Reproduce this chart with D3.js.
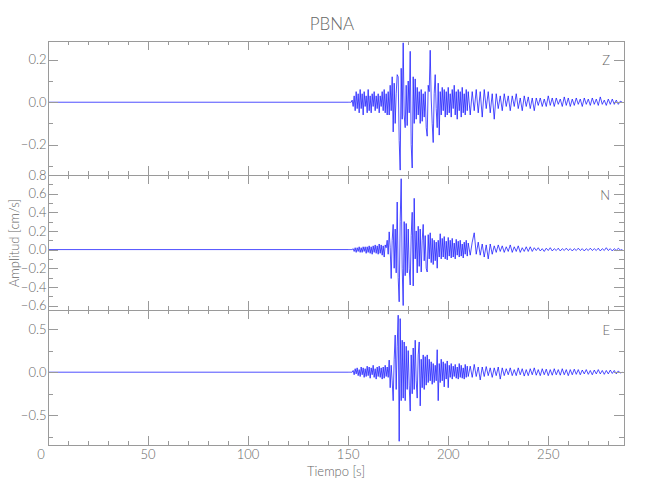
<!DOCTYPE html>
<html>
<head>
<meta charset="utf-8">
<script src="https://cdn.jsdelivr.net/npm/d3@7"></script>
<style>
  html, body { margin: 0; padding: 0; background: #fff; }
  svg { display: block; }
  text { font-family: Lato, "DejaVu Sans Condensed", sans-serif; font-weight: 300; fill: #666; }
  .axis path, .axis line { stroke: #9a9a9a; stroke-width: 1; shape-rendering: crispEdges; }
</style>
</head>
<body>
<script>
// ---------------- DATA ----------------
const stationName = "PBNA";
const channels = ["Z", "N", "E"];
const xTickValues = [0, 50, 100, 150, 200, 250];
const timeMax = 287.6;
const preEventStart = 0;            // quiet trace from 0 s
const strongStart = 150, strongStep = 0.5;   // samples 150..210 s every 0.5 s
const codaStart = 211, codaStep = 1;         // samples 211..287 s every 1 s

const yDomainZ = [-0.343, 0.291];
const yDomainN = [-0.648, 0.80];
const yDomainE = [-0.843, 0.72];
const yTicksZ = [-0.2, 0.0, 0.2];
const yTicksN = [-0.6, -0.4, -0.2, 0.0, 0.2, 0.4, 0.6, 0.8];
const yTicksE = [-0.5, 0.0, 0.5];
const yMinorStepZ = 0.1, yMinorStepN = 0.1, yMinorStepE = 0.25;

// Z component, 150.0 .. 210.0 s
const zStrong = [
  0, 0, 0, 0, 0.01, -0.02, 0.03, -0.04, 0.05, -0.03,
  0.04, -0.05, 0.06, -0.03, 0.04, -0.06, 0.05, -0.02, 0.03, -0.05,
  0.06, -0.04, 0.03, -0.05, 0.04, -0.02, 0.05, -0.04, 0.03, -0.03,
  0.04, -0.05, 0.03, -0.02, 0.05, -0.04, 0.06, -0.05, 0.04, -0.06,
  0.05, -0.06, 0.08, -0.04, 0.12, -0.14, 0.09, -0.10, 0.04, 0.13,
  0.12, -0.18, -0.32, 0.16, -0.08, 0.28, -0.06, -0.12, 0.08, -0.11,
  0.10, -0.05, 0.24, -0.20, -0.31, 0.12, -0.10, 0.11, -0.08, 0.07,
  -0.06, 0.05, -0.10, 0.06, -0.09, 0.04, -0.07, 0.05, -0.12, -0.16,
  0.08, 0.05, 0.245, 0.02, -0.10, -0.19, 0.04, 0.13, -0.03, -0.12,
  0.09, -0.155, 0.05, -0.06, 0.07, -0.04, 0.06, -0.07, 0.05, -0.06,
  0.07, -0.05, 0.04, -0.07, 0.06, -0.03, 0.08, -0.06, 0.05, -0.08,
  0.06, -0.04, 0.05, -0.07, 0.07, -0.05, 0.04, -0.06, 0.06, -0.04,
  0.05
];
// Z component, 211 .. 287 s
const zCoda = [
  -0.06, 0.05, -0.04, 0.06, -0.05, 0.05, -0.07, 0.06, -0.03, 0.05,
  -0.05, 0.04, -0.08, 0.04, -0.03, 0.03, -0.04, 0.04, -0.02, 0.03,
  -0.04, 0.03, -0.02, 0.04, -0.03, 0.02, -0.04, 0.03, -0.02, 0.025,
  -0.03, 0.02, -0.04, 0.02, -0.015, 0.02, -0.02, 0.015, -0.02, 0.03,
  -0.015, 0.02, -0.02, 0.02, -0.01, 0.015, -0.02, 0.025, -0.015, 0.02,
  -0.02, 0.015, -0.015, 0.02, -0.01, 0.015, -0.02, 0.02, -0.01, 0.015,
  -0.015, 0.02, -0.01, 0.015, -0.015, 0.025, -0.01, 0.01, -0.015, 0.015,
  -0.01, 0.015, -0.01, 0.01, -0.01, 0.005, 0.0
];

// N component, 150.0 .. 210.0 s
const nStrong = [
  0, 0, 0, 0, 0, 0.01, -0.02, 0.02, -0.03, 0.02,
  -0.02, 0.03, -0.03, 0.02, -0.03, 0.03, -0.02, 0.03, -0.04, 0.03,
  -0.03, 0.04, -0.04, 0.03, -0.05, 0.04, -0.03, 0.05, -0.04, 0.04,
  -0.05, 0.06, -0.04, 0.05, -0.06, 0.04, -0.08, 0.05, 0.02, 0.10,
  -0.05, 0.19, 0.02, -0.31, 0.10, 0.27, -0.20, 0.22, -0.25, 0.51,
  -0.30, -0.56, 0.30, 0.76, -0.20, -0.60, 0.30, -0.28, 0.28, -0.25,
  0.22, -0.20, -0.38, 0.15, 0.40, -0.39, 0.55, -0.10, 0.20, -0.25,
  0.25, -0.18, 0.22, -0.24, 0.10, 0.27, -0.12, 0.15, -0.20, -0.24,
  0.16, -0.10, 0.18, -0.14, 0.12, -0.16, 0.10, -0.12, 0.08, -0.20,
  0.10, -0.08, 0.17, -0.10, 0.12, -0.08, 0.14, -0.10, 0.09, -0.11,
  0.13, -0.07, 0.10, -0.09, 0.12, -0.08, 0.07, -0.10, 0.11, -0.06,
  0.09, -0.08, 0.10, -0.07, 0.06, -0.09, 0.08, -0.05, 0.10, -0.07,
  0.07
];
// N component, 211 .. 287 s
const nCoda = [
  -0.06, 0.08, 0.18, -0.05, 0.08, -0.06, 0.06, -0.08, 0.05, -0.10,
  0.06, -0.05, 0.04, -0.03, 0.05, -0.02, 0.04, -0.03, 0.03, -0.02,
  0.05, -0.03, 0.03, -0.02, 0.04, -0.03, 0.02, -0.02, 0.03, -0.02,
  0.03, -0.02, 0.02, -0.01, 0.02, -0.015, 0.01, -0.02, 0.015, -0.01,
  0.02, -0.015, 0.01, -0.01, 0.015, -0.015, 0.01, -0.01, 0.015, -0.01,
  0.01, -0.015, 0.01, -0.01, 0.015, -0.01, 0.01, -0.015, 0.01, -0.01,
  0.015, -0.01, 0.01, -0.01, 0.015, -0.015, 0.01, -0.01, 0.02, -0.01,
  0.01, -0.015, 0.01, -0.01, 0.015, -0.005, 0.0
];

// E component, 150.0 .. 210.0 s
const eStrong = [
  0, 0, 0, 0, 0, 0.02, -0.03, 0.04, -0.02, 0.05,
  -0.04, 0.03, -0.05, 0.06, -0.03, 0.05, -0.06, 0.04, -0.05, 0.07,
  -0.04, 0.06, -0.07, 0.05, -0.03, 0.08, -0.06, 0.04, -0.08, 0.06,
  -0.05, 0.07, -0.06, 0.05, -0.08, 0.06, -0.07, 0.08, -0.05, 0.06,
  -0.06, 0.14, -0.18, 0.08, -0.10, -0.33, 0.15, 0.43, -0.20, 0.30,
  0.66, -0.80, 0.62, -0.33, 0.37, -0.30, 0.35, -0.33, 0.30, -0.20,
  0.25, -0.15, -0.45, 0.20, -0.25, 0.28, -0.20, 0.37, -0.10, -0.30,
  0.20, 0.35, -0.39, 0.15, -0.18, 0.20, -0.20, 0.18, -0.15, 0.20,
  -0.12, 0.15, -0.10, 0.12, -0.14, 0.10, -0.12, 0.08, -0.10, 0.26,
  -0.33, 0.10, -0.12, 0.15, -0.10, 0.12, -0.17, 0.10, -0.08, 0.13,
  -0.18, 0.08, -0.06, 0.10, -0.08, 0.07, -0.05, 0.09, -0.07, 0.06,
  -0.08, 0.10, -0.06, 0.08, -0.07, 0.05, -0.08, 0.09, -0.06, 0.07,
  -0.05
];
// E component, 211 .. 287 s
const eCoda = [
  0.07, -0.06, 0.09, -0.05, 0.06, -0.09, 0.06, -0.05, 0.065, -0.04,
  0.05, -0.06, 0.05, -0.04, 0.06, -0.08, 0.05, -0.04, 0.04, -0.03,
  0.05, -0.04, 0.03, -0.04, 0.05, -0.03, 0.04, -0.045, 0.03, -0.04,
  0.04, -0.03, 0.05, -0.035, 0.03, -0.04, 0.04, -0.03, 0.035, -0.04,
  0.03, -0.035, 0.04, -0.03, 0.03, -0.035, 0.04, -0.03, 0.03, -0.04,
  0.03, -0.03, 0.035, -0.025, 0.03, -0.03, 0.025, -0.02, 0.03, -0.025,
  0.02, -0.03, 0.025, -0.02, 0.03, -0.02, 0.02, -0.025, 0.02, -0.02,
  0.025, -0.015, 0.02, -0.02, 0.015, -0.01, 0.0
];

// ---------------- LAYOUT ----------------
const W = 650, H = 500;
const plotLeft = 48, plotRight = 623.5;
const panelTops = [40.5, 175, 310];
const panelBottoms = [175, 310, 445];

const svg = d3.select("body").append("svg").attr("width", W).attr("height", H);

const x = d3.scaleLinear().domain([0, timeMax]).range([plotLeft, plotRight]);

function buildSeries(strong, coda) {
  const pts = [[preEventStart, 0]];
  strong.forEach((v, i) => pts.push([strongStart + i * strongStep, v]));
  coda.forEach((v, i) => pts.push([codaStart + i * codaStep, v]));
  return pts;
}

const panels = [
  { name: "Z", data: buildSeries(zStrong, zCoda), dom: yDomainZ, ticks: yTicksZ, minor: yMinorStepZ, fmt: d3.format(".1f") },
  { name: "N", data: buildSeries(nStrong, nCoda), dom: yDomainN, ticks: yTicksN, minor: yMinorStepN, fmt: d3.format(".1f") },
  { name: "E", data: buildSeries(eStrong, eCoda), dom: yDomainE, ticks: yTicksE, minor: yMinorStepE, fmt: d3.format(".1f") }
];

const xMinor = d3.range(0, timeMax, 10);
const fmtMinus = f => v => f(v).replace("-", "\u2212");

panels.forEach((p, i) => {
  const top = panelTops[i], bot = panelBottoms[i];
  const y = d3.scaleLinear().domain(p.dom).range([bot, top]);
  const yMinor = d3.range(Math.ceil(p.dom[0] / p.minor) * p.minor, p.dom[1] + 1e-9, p.minor);

  // clip
  svg.append("clipPath").attr("id", "clip" + i)
    .append("rect").attr("x", plotLeft).attr("y", top).attr("width", plotRight - plotLeft).attr("height", bot - top);

  // trace
  const line = d3.line().x(d => x(d[0])).y(d => y(d[1]));
  svg.append("path").datum(p.data)
    .attr("clip-path", "url(#clip" + i + ")")
    .attr("fill", "none").attr("stroke", "#1414ff").attr("stroke-width", 0.75)
    .attr("stroke-linejoin", "round")
    .attr("d", line);

  // bottom axis (ticks inward)
  const gB = svg.append("g").attr("class", "axis").attr("transform", `translate(0,${bot})`);
  gB.call(d3.axisBottom(x).tickValues(xTickValues).tickSize(-9).tickSizeOuter(0).tickFormat(""));
  gB.append("g").call(d3.axisBottom(x).tickValues(xMinor).tickSize(-4).tickSizeOuter(0).tickFormat(""))
    .select(".domain").remove();
  // top axis
  const gT = svg.append("g").attr("class", "axis").attr("transform", `translate(0,${top})`);
  gT.call(d3.axisTop(x).tickValues(xTickValues).tickSize(-9).tickSizeOuter(0).tickFormat(""));
  gT.append("g").call(d3.axisTop(x).tickValues(xMinor).tickSize(-4).tickSizeOuter(0).tickFormat(""))
    .select(".domain").remove();
  // left axis
  const gL = svg.append("g").attr("class", "axis").attr("transform", `translate(${plotLeft},0)`);
  gL.call(d3.axisLeft(y).tickValues(p.ticks).tickSize(-10).tickSizeOuter(0).tickFormat(""));
  gL.append("g").call(d3.axisLeft(y).tickValues(yMinor).tickSize(-5).tickSizeOuter(0).tickFormat(""))
    .select(".domain").remove();
  // right axis
  const gR = svg.append("g").attr("class", "axis").attr("transform", `translate(${plotRight},0)`);
  gR.call(d3.axisRight(y).tickValues(p.ticks).tickSize(-10).tickSizeOuter(0).tickFormat(""));
  gR.append("g").call(d3.axisRight(y).tickValues(yMinor).tickSize(-5).tickSizeOuter(0).tickFormat(""))
    .select(".domain").remove();

  // y tick labels
  const f = fmtMinus(p.fmt);
  svg.append("g").selectAll("text").data(p.ticks).join("text")
    .attr("x", plotLeft - 1.5).attr("y", d => y(d)).attr("dy", "0.36em")
    .attr("text-anchor", "end").attr("font-size", 13)
    .text(d => f(d));

  // component label
  svg.append("text").attr("x", 610).attr("y", top + 20).attr("dy", "0.36em")
    .attr("text-anchor", "end").attr("font-size", 13).text(p.name);
});

// x tick labels (bottom panel only)
svg.append("g").selectAll("text").data(xTickValues).join("text")
  .attr("x", d => x(d) + (d === 0 ? -7 : 0)).attr("y", 458.5)
  .attr("text-anchor", "middle").attr("font-size", 13)
  .text(d => d3.format("d")(d));

// axis titles
svg.append("text").attr("x", 336).attr("y", 476).attr("text-anchor", "middle")
  .attr("font-size", 13).text("Tiempo [s]");
svg.append("text").attr("transform", "translate(19,243) rotate(-90)")
  .attr("text-anchor", "middle").attr("font-size", 13).text("Amplitud [cm/s]");

// title
svg.append("text").attr("x", 332).attr("y", 30).attr("text-anchor", "middle")
  .attr("font-size", 17).text(stationName);
</script>
</body>
</html>
